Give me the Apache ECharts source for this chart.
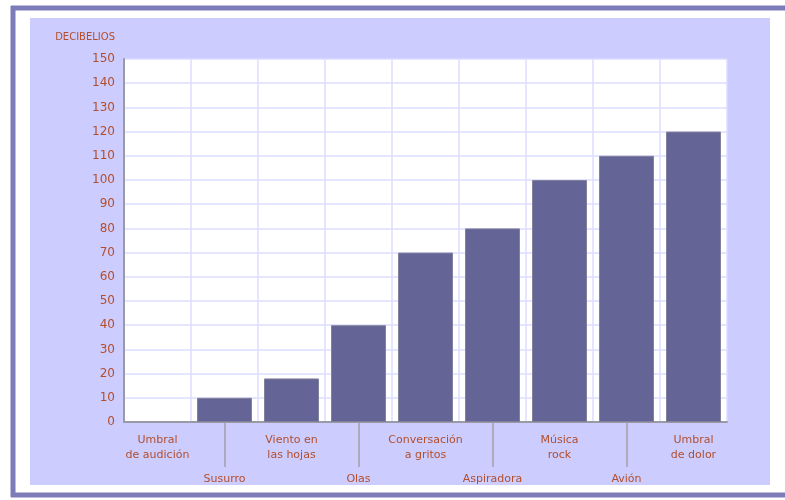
<!DOCTYPE html>
<html>
<head>
<meta charset="utf-8">
<script src="https://cdn.jsdelivr.net/npm/echarts@6/dist/echarts.min.js"></script>
<style>
html,body{margin:0;padding:0;background:#fff;overflow:hidden;}
#chart{width:785px;height:500px;}
</style>
</head>
<body>
<div id="chart"></div>
<script>
var categories = ['Umbral\nde audición', 'Susurro', 'Viento en\nlas hojas', 'Olas', 'Conversación\na gritos', 'Aspiradora', 'Música\nrock', 'Avión', 'Umbral\nde dolor'];
var decibels = [0, 10, 18, 40, 70, 80, 100, 110, 120];
var yTicks = { min: 0, max: 150, interval: 10 };
var yName = 'DECIBELIOS';

var textColor = '#b24e2c';
var font = 'DejaVu Sans';
var frame = '#7c7cb8';

var chart = echarts.init(document.getElementById('chart'), null, { renderer: 'canvas' });
chart.setOption({
  animation: false,
  backgroundColor: '#ffffff',
  graphic: [
    { type: 'line', z: -10, shape: { x1: 11, y1: 8, x2: 785, y2: 8 }, style: { stroke: frame, lineWidth: 5 } },
    { type: 'line', z: -10, shape: { x1: 13, y1: 6, x2: 13, y2: 497 }, style: { stroke: frame, lineWidth: 5 } },
    { type: 'line', z: -10, shape: { x1: 11, y1: 495, x2: 785, y2: 495 }, style: { stroke: frame, lineWidth: 5 } },
    { type: 'rect', z: -9, shape: { x: 30, y: 18, width: 740, height: 467 }, style: { fill: '#ccccff' } }
  ],
  grid: { left: 124, right: 58, top: 59, bottom: 78, show: true, backgroundColor: '#ffffff', borderWidth: 0 },
  xAxis: [
    {
      type: 'category', data: categories, position: 'bottom',
      axisLine: { show: true, lineStyle: { color: '#9a9aa6', width: 2 } },
      axisTick: { show: true, alignWithLabel: true, length: 45, interval: function (i) { return i % 2 === 1; }, lineStyle: { color: '#a0a0a8', width: 1.5 } },
      axisLabel: { interval: 0, margin: 11, color: textColor, fontFamily: font, fontSize: 11, lineHeight: 15,
        formatter: function (v, i) { return i % 2 === 0 ? v : ''; } },
      splitLine: { show: true, interval: 0, lineStyle: { color: '#dcdcff', width: 1.5 } }
    },
    {
      type: 'category', data: categories, position: 'bottom',
      axisLine: { show: false }, axisTick: { show: false },
      axisLabel: { interval: 0, margin: 50, color: textColor, fontFamily: font, fontSize: 11, lineHeight: 15,
        formatter: function (v, i) { return i % 2 === 1 ? v : ''; } },
      splitLine: { show: false }
    }
  ],
  yAxis: {
    type: 'value', min: yTicks.min, max: yTicks.max, interval: yTicks.interval,
    name: yName, nameLocation: 'end', nameGap: 22,
    nameTextStyle: { color: textColor, fontFamily: font, fontSize: 10, align: 'right', verticalAlign: 'middle', padding: [0, 9, 0, 0] },
    axisLine: { show: true, lineStyle: { color: '#9a9aa6', width: 2 } },
    axisTick: { show: false },
    axisLabel: { margin: 9, color: textColor, fontFamily: font, fontSize: 12 },
    splitLine: { show: true, lineStyle: { color: '#dcdcff', width: 1.5 } }
  },
  series: [{
    type: 'bar', xAxisIndex: 0, barCategoryGap: '18%',
    data: decibels.map(function (v) { return v === 0 ? { value: v, itemStyle: { borderWidth: 0 } } : v; }),
    itemStyle: { color: '#646496', borderColor: '#80809a', borderWidth: 1 }
  }]
});
</script>
</body>
</html>
